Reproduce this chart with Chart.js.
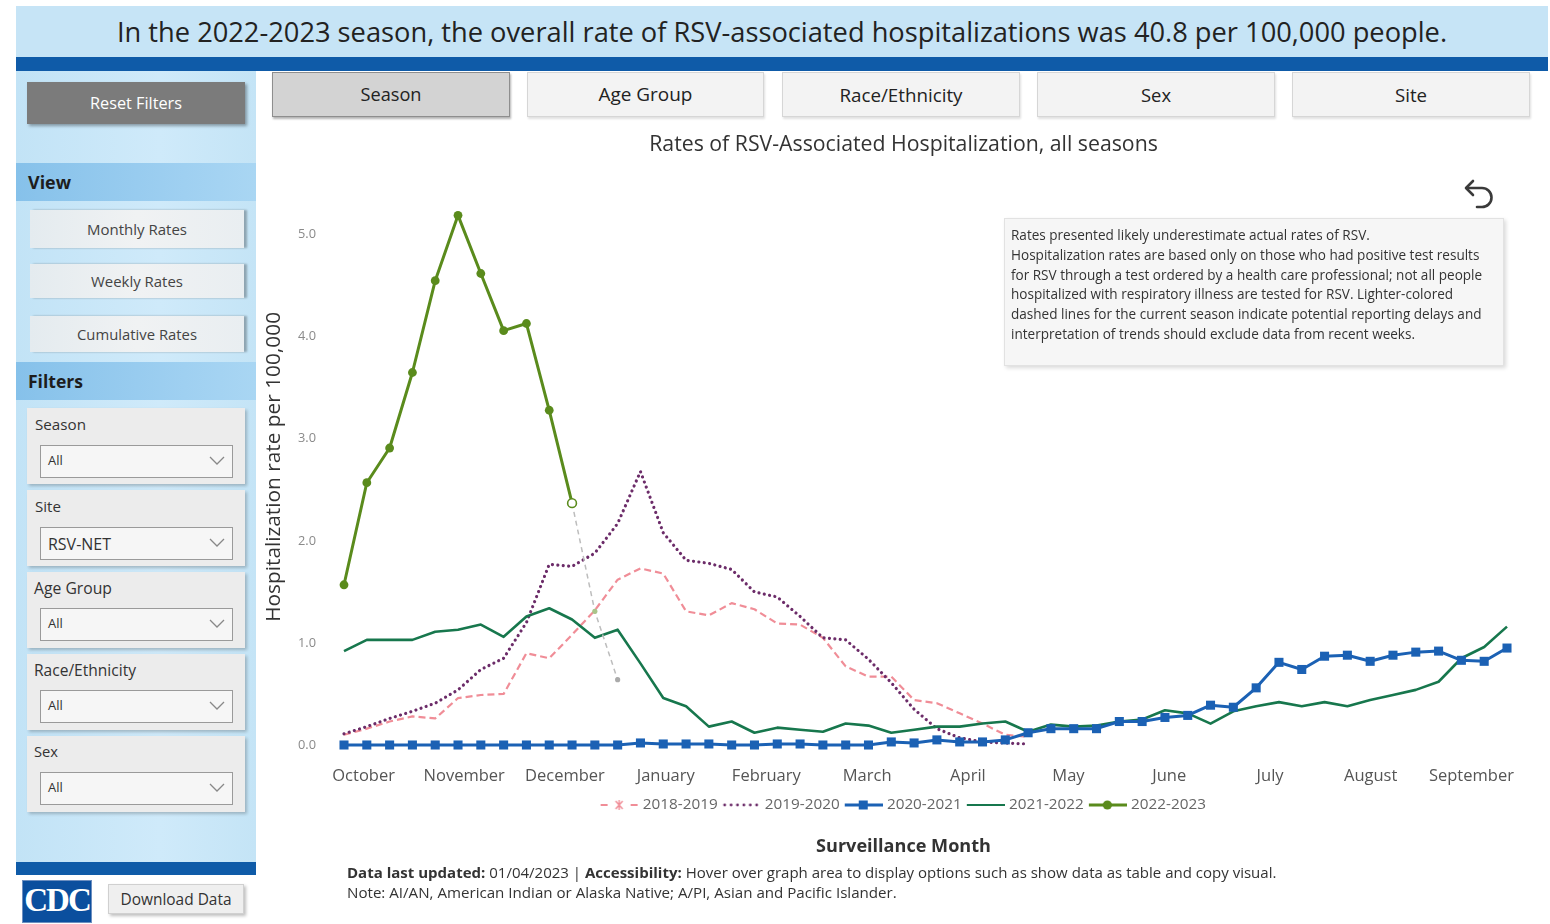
<!DOCTYPE html>
<html>
<head>
<meta charset="utf-8">
<script src="https://cdn.jsdelivr.net/npm/chart.js@4.4.1/dist/chart.umd.min.js"></script>
<style>
html,body{margin:0;padding:0;background:#fff;width:1550px;height:924px;overflow:hidden;font-family:"Open Sans",sans-serif;color:#333;}
.abs{position:absolute;box-sizing:border-box;}
.fit{display:inline-block;white-space:nowrap;}
#banner{left:16px;top:6px;width:1532px;height:51px;background:#c6e4f6;text-align:center;line-height:51px;color:#222;}
#bluebar{left:16px;top:57px;width:1532px;height:14px;background:#0f5ba8;}
#sidebar{left:16px;top:71px;width:240px;height:791px;background:linear-gradient(90deg,#c2e3f6,#cfeafa 60%,#c4e4f6);}
#sidebar2{left:16px;top:862px;width:240px;height:13px;background:#0f5ba8;}
.btnDark{background:#7b7b7b;color:#fff;text-align:center;box-shadow:2px 2px 3px rgba(0,0,0,.35);}
.hdr{background:linear-gradient(90deg,#86c1ea,#9fd0f1 70%,#a9d6f3);font-weight:bold;color:#1d1d1d;padding-left:12px;}
.vbtn{background:linear-gradient(90deg,#e4ebef,#f0f2f3 50%,#e9eef1);color:#444;text-align:center;box-shadow:3px 0 2px rgba(0,0,0,.28);}
.card{background:#ececec;box-shadow:2px 2px 3px rgba(0,0,0,.22);}
.card .lab{position:absolute;left:8px;color:#333;}
.sel{position:absolute;left:13px;width:191px;height:31px;background:#f6f6f6;border:1px solid #9a9a9a;}
.sel span{position:absolute;left:7px;top:5px;color:#333;}
.sel svg{position:absolute;right:7px;top:10px;}
.tab{background:#f3f3f3;border:1px solid #d6d6d6;text-align:center;color:#222;box-shadow:1px 2px 2px rgba(0,0,0,.12);}
.tab.on{background:#d3d3d3;border:1px solid #8e8e8e;box-shadow:1px 2px 2px rgba(0,0,0,.3);}
#note{left:1004px;top:218px;width:500px;height:148px;background:#f6f6f6;border:1px solid #e2e2e2;box-shadow:2px 2px 4px rgba(0,0,0,.15);padding:7px 0 0 6px;color:#333;}
#note div{white-space:nowrap;line-height:19.8px;}
#footer1,#footer2{color:#333;white-space:nowrap;}
#chartBox{left:262px;top:125px;width:1283px;height:740px;}
</style>
</head>
<body>
<div class="abs" id="banner"><span class="fit" data-w="1330" style="font-size:24px">In the 2022-2023 season, the overall rate of RSV-associated hospitalizations was 40.8 per 100,000 people.</span></div>
<div class="abs" id="bluebar"></div>
<div class="abs" id="sidebar"></div>
<div class="abs" id="sidebar2"></div>

<div class="abs btnDark" style="left:27px;top:82px;width:218px;height:42px;line-height:42px;"><span class="fit" data-w="92" style="font-size:15px">Reset Filters</span></div>

<div class="abs hdr" style="left:16px;top:163px;width:240px;height:38px;line-height:38px;"><span class="fit" data-w="43" style="font-size:18px">View</span></div>
<div class="abs vbtn" style="left:30px;top:210px;width:214px;height:38px;line-height:38px;"><span class="fit" data-w="100" style="font-size:14px">Monthly Rates</span></div>
<div class="abs vbtn" style="left:30px;top:264px;width:214px;height:34px;line-height:34px;"><span class="fit" data-w="92" style="font-size:14px">Weekly Rates</span></div>
<div class="abs vbtn" style="left:30px;top:316px;width:214px;height:36px;line-height:36px;"><span class="fit" data-w="120" style="font-size:14px">Cumulative Rates</span></div>

<div class="abs hdr" style="left:16px;top:362px;width:240px;height:38px;line-height:38px;"><span class="fit" data-w="55" style="font-size:18px">Filters</span></div>

<div class="abs card" style="left:27px;top:408px;width:218px;height:76px;">
  <span class="lab fit" data-w="51" style="top:6px;font-size:14px">Season</span>
  <div class="sel" style="top:37px"><span class="fit" style="font-size:13px">All</span><svg width="16" height="10"><polyline points="1,1 8,8 15,1" fill="none" stroke="#888" stroke-width="1.3"/></svg></div>
</div>
<div class="abs card" style="left:27px;top:490px;width:218px;height:76px;">
  <span class="lab fit" data-w="26" style="top:6px;font-size:14px">Site</span>
  <div class="sel" style="top:37px"><span class="fit" data-w="63" style="font-size:13px">RSV-NET</span><svg width="16" height="10"><polyline points="1,1 8,8 15,1" fill="none" stroke="#888" stroke-width="1.3"/></svg></div>
</div>
<div class="abs card" style="left:27px;top:572px;width:218px;height:76px;">
  <span class="lab fit" data-w="78" style="top:5px;left:7px;font-size:14px">Age Group</span>
  <div class="sel" style="top:36px"><span class="fit" style="font-size:13px">All</span><svg width="16" height="10"><polyline points="1,1 8,8 15,1" fill="none" stroke="#888" stroke-width="1.3"/></svg></div>
</div>
<div class="abs card" style="left:27px;top:654px;width:218px;height:76px;">
  <span class="lab fit" data-w="102" style="top:5px;left:7px;font-size:14px">Race/Ethnicity</span>
  <div class="sel" style="top:36px"><span class="fit" style="font-size:13px">All</span><svg width="16" height="10"><polyline points="1,1 8,8 15,1" fill="none" stroke="#888" stroke-width="1.3"/></svg></div>
</div>
<div class="abs card" style="left:27px;top:736px;width:218px;height:76px;">
  <span class="lab fit" data-w="24" style="top:5px;left:7px;font-size:14px">Sex</span>
  <div class="sel" style="top:36px"><span class="fit" style="font-size:13px">All</span><svg width="16" height="10"><polyline points="1,1 8,8 15,1" fill="none" stroke="#888" stroke-width="1.3"/></svg></div>
</div>

<div class="abs" style="left:22px;top:880px;width:70px;height:43px;background:#0b4f9e;border:1px solid #6d8fc0;color:#fff;font-family:'Liberation Serif',serif;font-weight:bold;font-size:33px;line-height:38px;text-align:center;letter-spacing:-2px;">CDC</div>
<div class="abs" style="left:108px;top:884px;width:136px;height:30px;background:#efefef;border:1px solid #d0d0d0;box-shadow:2px 2px 3px rgba(0,0,0,.25);text-align:center;line-height:28px;color:#333;"><span class="fit" data-w="111" style="font-size:14px">Download Data</span></div>

<div class="abs tab on" style="left:272px;top:72px;width:238px;height:45px;line-height:43px;"><span class="fit" data-w="61" style="font-size:17px">Season</span></div>
<div class="abs tab" style="left:527px;top:72px;width:237px;height:45px;line-height:43px;"><span class="fit" data-w="94" style="font-size:17px">Age Group</span></div>
<div class="abs tab" style="left:782px;top:72px;width:238px;height:45px;line-height:43px;"><span class="fit" data-w="123" style="font-size:17px">Race/Ethnicity</span></div>
<div class="abs tab" style="left:1037px;top:72px;width:238px;height:45px;line-height:43px;"><span class="fit" data-w="30" style="font-size:17px">Sex</span></div>
<div class="abs tab" style="left:1292px;top:72px;width:238px;height:45px;line-height:43px;"><span class="fit" data-w="32" style="font-size:17px">Site</span></div>

<div class="abs" id="chartBox"><canvas id="c" width="1283" height="740"></canvas></div>

<svg class="abs" style="left:1458px;top:174px" width="42" height="42" viewBox="0 0 42 42">
  <path d="M9 14 H24 A9.5 9.5 0 0 1 24 33 H19" fill="none" stroke="#3a3a3a" stroke-width="2.6" stroke-linecap="round"/>
  <polyline points="15,7 8,14 15,21" fill="none" stroke="#3a3a3a" stroke-width="2.6" stroke-linecap="round" stroke-linejoin="round"/>
</svg>

<div class="abs" id="note">
  <div>Rates presented likely underestimate actual rates of RSV.</div>
  <div><span class="fit" id="noteRef">Hospitalization rates are based only on those who had positive test results</span></div>
  <div>for RSV through a test ordered by a health care professional; not all people</div>
  <div>hospitalized with respiratory illness are tested for RSV. Lighter-colored</div>
  <div>dashed lines for the current season indicate potential reporting delays and</div>
  <div>interpretation of trends should exclude data from recent weeks.</div>
</div>

<div class="abs" id="footer1" style="left:347px;top:861px;"><span class="fit" data-w="930" style="font-size:13px"><b>Data last updated:</b> 01/04/2023 | <b>Accessibility:</b> Hover over graph area to display options such as show data as table and copy visual.</span></div>
<div class="abs" id="footer2" style="left:347px;top:881px;"><span class="fit" data-w="550" style="font-size:13px">Note: AI/AN, American Indian or Alaska Native; A/PI, Asian and Pacific Islander.</span></div>

<script>
// ---------------- DATA ----------------
const weekLabels = [40,41,42,43,44,45,46,47,48,49,50,51,52,1,2,3,4,5,6,7,8,9,10,11,12,13,14,15,16,17,18,19,20,21,22,23,24,25,26,27,28,29,30,31,32,33,34,35,36,37,38,39];
const monthLabels = ['October','November','December','January','February','March','April','May','June','July','August','September'];
const monthTickWeeks = [0.86,5.27,9.69,14.11,18.52,22.94,27.36,31.77,36.19,40.61,45.02,49.44];
const yTickValues = [0,1,2,3,4,5];
const seasonNames = ['2018-2019','2019-2020','2020-2021','2021-2022','2022-2023'];

const rates2018_19 = [0.10,0.16,0.23,0.28,0.26,0.46,0.49,0.50,0.90,0.85,1.08,1.32,1.62,1.73,1.68,1.31,1.27,1.39,1.33,1.19,1.18,1.05,0.77,0.67,0.67,0.44,0.41,0.31,0.21,0.10,0.08,
  null,null,null,null,null,null,null,null,null,null,null,null,null,null,null,null,null,null,null,null,null];
const rates2019_20 = [0.11,0.18,0.26,0.33,0.41,0.54,0.74,0.85,1.20,1.77,1.75,1.88,2.17,2.68,2.08,1.81,1.78,1.72,1.50,1.45,1.26,1.05,1.03,0.84,0.61,0.35,0.16,0.07,0.03,0.02,0.01,
  null,null,null,null,null,null,null,null,null,null,null,null,null,null,null,null,null,null,null,null,null];
const rates2020_21 = [0,0,0,0,0,0,0,0,0,0,0,0,0,0.02,0.01,0.01,0.01,0,0,0.01,0.01,0,0,0,0.03,0.02,0.05,0.03,0.03,0.05,0.12,0.16,0.16,0.16,0.23,0.23,0.27,0.29,0.39,0.37,0.56,0.81,0.74,0.87,0.88,0.82,0.88,0.91,0.92,0.83,0.82,0.95];
const rates2021_22 = [0.92,1.03,1.03,1.03,1.11,1.13,1.18,1.06,1.26,1.34,1.23,1.05,1.13,0.80,0.46,0.38,0.18,0.23,0.12,0.17,0.15,0.13,0.21,0.19,0.12,0.15,0.18,0.18,0.21,0.23,0.13,0.20,0.18,0.19,0.23,0.25,0.34,0.31,0.21,0.33,0.38,0.42,0.38,0.42,0.38,0.44,0.49,0.54,0.62,0.85,0.96,1.16];
const rates2022_23 = [1.57,2.57,2.91,3.65,4.55,5.19,4.62,4.06,4.13,3.28,2.37,1.31,0.64,
  null,null,null,null,null,null,null,null,null,null,null,null,null,null,null,null,null,null,null,null,null,null,null,null,null,null,null,null,null,null,null,null,null,null,null,null,null,null,null];
const provisionalStart = 10; // index of first week with possible reporting delay

// ---------------- HTML TEXT FITTING ----------------
document.querySelectorAll('.fit[data-w]').forEach(el => {
  const fs = parseFloat(el.style.fontSize || getComputedStyle(el).fontSize);
  const w = el.getBoundingClientRect().width;
  el.style.fontSize = (fs * (+el.dataset.w) / w).toFixed(2) + 'px';
});
(function(){
  const ref = document.getElementById('noteRef');
  const note = document.getElementById('note');
  note.style.fontSize = '12px';
  const w = ref.getBoundingClientRect().width;
  note.style.fontSize = (12 * 469 / w).toFixed(2) + 'px';
})();

// ---------------- CHART ----------------
const FONT = "'Open Sans', sans-serif";
const mctx = document.createElement('canvas').getContext('2d');
function fitSize(text, target, weight) {
  mctx.font = (weight || 'normal') + ' 100px ' + FONT;
  return 100 * target / mctx.measureText(text).width;
}
const CANVAS_LEFT = 262, CANVAS_TOP = 125, CANVAS_W = 1283, CANVAS_H = 740;
const titleSize = fitSize('Rates of RSV-Associated Hospitalization, all seasons', 509);
const yTitleSize = fitSize('Hospitalization rate per 100,000', 310);
const yTickSize = fitSize('5.0', 18);
const monthSize = fitSize('September', 85);
const legendSize = fitSize('2018-2019', 75);
const subSize = fitSize('Surveillance Month', 175, 'bold');

const AREA_TOP = 188.8, AREA_BOTTOM = 745, AREA_LEFT = 332.6, AREA_RIGHT = 1518.4;
const TITLE_Y = 145, MONTH_Y = 776, LEGEND_Y = 805, SUB_Y = 847;
const legendPad = 5.5;
const legendTop = LEGEND_Y - legendPad - legendSize / 2;
const legendBottom = legendTop + legendSize + legendPad + 10;

const colors = {
  s18: '#f08d97', s19: '#6c2c69', s20: '#1b61b4', s21: '#17774d', s22: '#5a8b1c', prov: '#bdbdbd', provPt: '#a9c48a'
};

function makeIcon(draw) {
  const c = document.createElement('canvas');
  c.width = 41; c.height = 14;
  const g = c.getContext('2d');
  draw(g);
  return c;
}
const legendIcons = [
  makeIcon(g => { g.strokeStyle = colors.s18; g.lineWidth = 2; g.beginPath(); g.moveTo(3,7); g.lineTo(10,7); g.moveTo(33,7); g.lineTo(40,7); g.stroke();
    g.lineWidth = 1.4; g.beginPath(); g.moveTo(18,3); g.lineTo(25,11); g.moveTo(25,3); g.lineTo(18,11); g.moveTo(21.5,2); g.lineTo(21.5,12); g.stroke(); }),
  makeIcon(g => { g.fillStyle = colors.s19; for (let k = 0; k < 6; k++) { g.beginPath(); g.arc(5 + k * 6.4, 7, 1.4, 0, Math.PI * 2); g.fill(); } }),
  makeIcon(g => { g.strokeStyle = colors.s20; g.lineWidth = 3; g.beginPath(); g.moveTo(3,7); g.lineTo(41,7); g.stroke(); g.fillStyle = colors.s20; g.fillRect(17,2.5,9,9); }),
  makeIcon(g => { g.strokeStyle = colors.s21; g.lineWidth = 2.2; g.beginPath(); g.moveTo(3,7); g.lineTo(41,7); g.stroke(); }),
  makeIcon(g => { g.strokeStyle = colors.s22; g.lineWidth = 3; g.beginPath(); g.moveTo(3,7); g.lineTo(41,7); g.stroke(); g.fillStyle = colors.s22; g.beginPath(); g.arc(21.5,7,4.6,0,Math.PI*2); g.fill(); })
];

const isProv = i => i >= provisionalStart;

new Chart(document.getElementById('c'), {
  type: 'line',
  data: {
    labels: weekLabels,
    datasets: [
      { label: seasonNames[0], data: rates2018_19, borderColor: colors.s18, backgroundColor: colors.s18, borderWidth: 2.2, borderDash: [7,4], pointRadius: 0, order: 5 },
      { label: seasonNames[1], data: rates2019_20, borderColor: colors.s19, backgroundColor: colors.s19, borderWidth: 3.2, borderDash: [0.01,5.4], borderCapStyle: 'round', pointRadius: 0, order: 4 },
      { label: seasonNames[2], data: rates2020_21, borderColor: colors.s20, backgroundColor: colors.s20, borderWidth: 3, pointStyle: 'rect', pointRadius: 6.4, pointBorderWidth: 0, order: 2 },
      { label: seasonNames[3], data: rates2021_22, borderColor: colors.s21, backgroundColor: colors.s21, borderWidth: 2.6, pointRadius: 0, order: 3 },
      { label: seasonNames[4], data: rates2022_23, borderColor: colors.s22, backgroundColor: colors.s22, borderWidth: 3, order: 1,
        pointStyle: 'circle',
        pointRadius: c => c.dataIndex > provisionalStart ? 2.6 : 4.4,
        pointBorderWidth: c => c.dataIndex === provisionalStart ? 1.6 : 0,
        pointBorderColor: colors.s22,
        pointBackgroundColor: c => c.dataIndex === provisionalStart ? '#ffffff' : (c.dataIndex > provisionalStart ? (c.dataIndex === provisionalStart + 1 ? colors.provPt : '#aaaaaa') : colors.s22),
        segment: {
          borderColor: c => isProv(c.p0DataIndex) ? colors.prov : undefined,
          borderDash: c => isProv(c.p0DataIndex) ? [5,4] : undefined,
          borderWidth: c => isProv(c.p0DataIndex) ? 1.5 : undefined
        }
      }
    ]
  },
  options: {
    responsive: false,
    animation: false,
    devicePixelRatio: 1,
    clip: false,
    spanGaps: false,
    elements: { line: { tension: 0, borderJoinStyle: 'round' } },
    layout: { padding: 0 },
    font: { family: FONT },
    scales: {
      x: { type: 'category', offset: true, display: false },
      xMonth: {
        type: 'linear', position: 'bottom', min: -0.5, max: 51.5,
        grid: { display: false, drawTicks: false }, border: { display: false },
        afterBuildTicks: s => { s.ticks = monthTickWeeks.map(v => ({ value: v })); },
        afterFit: s => { s.height = legendTop - AREA_BOTTOM; },
        ticks: {
          autoSkip: false, maxRotation: 0, minRotation: 0,
          padding: MONTH_Y - AREA_BOTTOM - monthSize * 0.6,
          color: '#555', font: { family: FONT, size: monthSize },
          callback: (v, i) => monthLabels[i]
        }
      },
      y: {
        type: 'linear', min: 0, max: 5.45,
        grid: { display: false, drawTicks: false }, border: { display: false },
        afterBuildTicks: s => { s.ticks = yTickValues.map(v => ({ value: v })); },
        afterFit: s => { s.width = AREA_LEFT - CANVAS_LEFT; },
        ticks: { padding: AREA_LEFT - 316, color: '#8a8a8a', font: { family: FONT, size: yTickSize }, callback: v => Number(v).toFixed(1) },
        title: { display: true, text: 'Hospitalization rate per 100,000', color: '#333', font: { family: FONT, size: yTitleSize }, padding: { top: 0, bottom: 0 } }
      },
      yRight: {
        type: 'linear', position: 'right', display: true,
        grid: { display: false, drawTicks: false }, border: { display: false },
        ticks: { display: false },
        afterFit: s => { s.width = (CANVAS_LEFT + CANVAS_W) - AREA_RIGHT; }
      }
    },
    plugins: {
      title: {
        display: true, text: 'Rates of RSV-Associated Hospitalization, all seasons', color: '#333',
        font: { family: FONT, size: titleSize, weight: 'normal' },
        padding: { top: TITLE_Y - CANVAS_TOP - titleSize * 0.6, bottom: AREA_TOP - (TITLE_Y + titleSize * 0.6) }
      },
      subtitle: {
        display: true, position: 'bottom', text: 'Surveillance Month', color: '#333',
        font: { family: FONT, size: subSize, weight: 'bold' },
        padding: { top: SUB_Y - legendBottom - subSize * 0.6, bottom: (CANVAS_TOP + CANVAS_H) - (SUB_Y + subSize * 0.6) }
      },
      legend: {
        display: true, position: 'bottom',
        labels: {
          usePointStyle: true, pointStyleWidth: 34, padding: legendPad, color: '#666',
          font: { family: FONT, size: legendSize },
          generateLabels: chart => {
            const items = Chart.defaults.plugins.legend.labels.generateLabels(chart);
            items.forEach(it => { it.pointStyle = legendIcons[it.datasetIndex]; it.lineWidth = 0; it.fontColor = '#666'; });
            return items;
          },
          sort: (a, b) => a.datasetIndex - b.datasetIndex
        }
      },
      tooltip: { enabled: false }
    }
  }
});
</script>
</body>
</html>
